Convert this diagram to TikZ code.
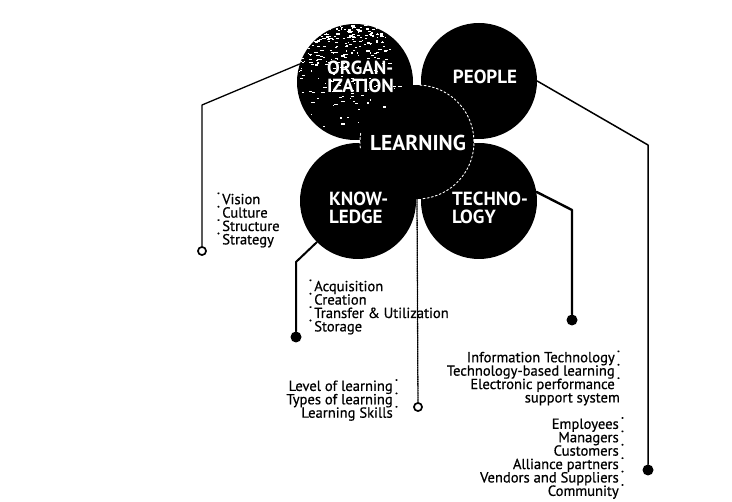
\documentclass[tikz,border=0pt]{standalone}
\usepackage{graphicx}
\usepackage{fontspec}
\setmainfont{PT Sans}
\newfontfamily\listfont[FakeBold=0.6]{PT Sans}
\usepackage{tikz}
\usetikzlibrary{calc}
\usetikzlibrary{positioning}

\newcommand{\bul}{\raisebox{0.62em}{\scalebox{0.4}{\textbullet}}}
\newcommand{\tightlines}{\lineskiplimit=-20pt\relax\lineskip=0pt\relax}

\begin{document}
\begin{tikzpicture}[
  x=1pt,y=-1pt,
  line cap=round,
  line join=round,
  bubble/.style={circle,fill=black,minimum size=116pt,inner sep=0pt},
  title/.style={text=white,font=\bfseries\fontsize{19}{18.5}\selectfont,align=left,inner sep=0pt},
  items/.style={font=\listfont\fontsize{14.6}{13.4}\selectfont\tightlines,inner sep=0pt},
  leg/.style={draw=black},
  ring/.style={circle,draw=black,fill=white,line width=1.6pt,minimum size=8pt,inner sep=0pt},
  blob/.style={circle,fill=black,minimum size=11pt,inner sep=0pt}
]
  \fill[white] (0,0) rectangle (732,502);
  \useasboundingbox (0,0) rectangle (732,502);

  % Circles
  \node[bubble,minimum size=114pt] (learn) at (417,142) {};
  \node[bubble] (org)    at (355,82)  {};
  \node[bubble] (people) at (479,81)  {};
  \node[bubble] (know)   at (358,201) {};
  \node[bubble] (tech)   at (479,201) {};

  % Speckled texture on the organization circle
  \begin{scope}
    \clip (355,82) circle[radius=58];
    \pgfmathsetseed{12}
    \foreach \k in {1,...,320}{
      \pgfmathsetmacro{\px}{297+110*rnd*(0.5+0.5*rnd)}
      \pgfmathsetmacro{\py}{24+110*rnd*rnd}
      \pgfmathsetmacro{\pw}{1+3*rnd}
      \fill[white] (\px,\py) rectangle ++(\pw,1.1);
    }
  \end{scope}

  % Learning outline
  \draw[white,line width=0.9pt,dash pattern=on 2pt off 2.2pt]
    (learn.center) ++(-87:57) arc[start angle=-87,end angle=84,radius=57];
  \draw[white,line width=0.9pt,dash pattern=on 2pt off 2.2pt]
    (learn.center) ++(174:57) arc[start angle=174,end angle=190,radius=57];

  % Labels
  \node[title,anchor=west] (orgtxt) at (327,77) {ORGAN-\\IZATION};
  \node[title] (peopletxt) at (485,77) {PEOPLE};
  \node[title,font=\bfseries\fontsize{21.5}{17}\selectfont] (learntxt) at (418,143) {LEARNING};
  \node[title,anchor=west] (knowtxt) at (329,208) {KNOW-\\LEDGE};
  \node[title,anchor=west] (techtxt) at (452,208) {TECHNO-\\LOGY};

  % End markers
  \coordinate (orgbend)    at (202,105);
  \coordinate (knowbend)   at (296,262);
  \coordinate (techbend)   at (572,210);
  \coordinate (peoplebend) at (648,145);
  \node[ring] (orgend)   at (202,251) {};
  \node[ring] (learnend) at (418,407) {};
  \node[blob] (knowend)   at (296,337) {};
  \node[blob] (techend)   at (572,320) {};
  \node[blob] (peopleend) at (648,470) {};

  % Legs
  \draw[leg,line width=1.3pt] (org.162) -- (orgbend) -- (orgend);
  \draw[leg,line width=2pt] (know.225) -- (knowbend) -- (knowend);
  \draw[leg,line width=2.4pt] (tech.9) -- (techbend) -- (techend);
  \draw[leg,line width=1.5pt] (people.0) -- (peoplebend) -- (peopleend);
  \draw[leg,line width=1.3pt,densely dotted] (learn.south) -- (learnend);
  \node[ring] at (orgend) {};
  \node[ring] at (learnend) {};

  % Lists
  \node[items,anchor=west,align=left] (orglist) at (217,220)
    {\bul\,Vision\\\bul\,Culture\\\bul\,Structure\\\bul\,Strategy};
  \node[items,anchor=west,align=left] (knowlist) at (309,307)
    {\bul\,Acquisition\\\bul\,Creation\\\bul\,Transfer \& Utilization\\\bul\,Storage};
  \node[items,anchor=east,align=right] (learnlist) at (398,400)
    {Level of learning\,\bul\\Types of learning\,\bul\\Learning Skills\,\bul};
  \node[items,anchor=east,align=right] (techlist) at (620,378)
    {Information Technology\,\bul\\Technology-based learning\,\bul\\Electronic performance\,\bul\\support system};
  \node[items,anchor=east,align=right] (peoplelist) at (624,458)
    {Employees\,\bul\\Managers\,\bul\\Customers\,\bul\\Alliance partners\,\bul\\Vendors and Suppliers\,\bul\\Community\,\bul};
\end{tikzpicture}
\end{document}
